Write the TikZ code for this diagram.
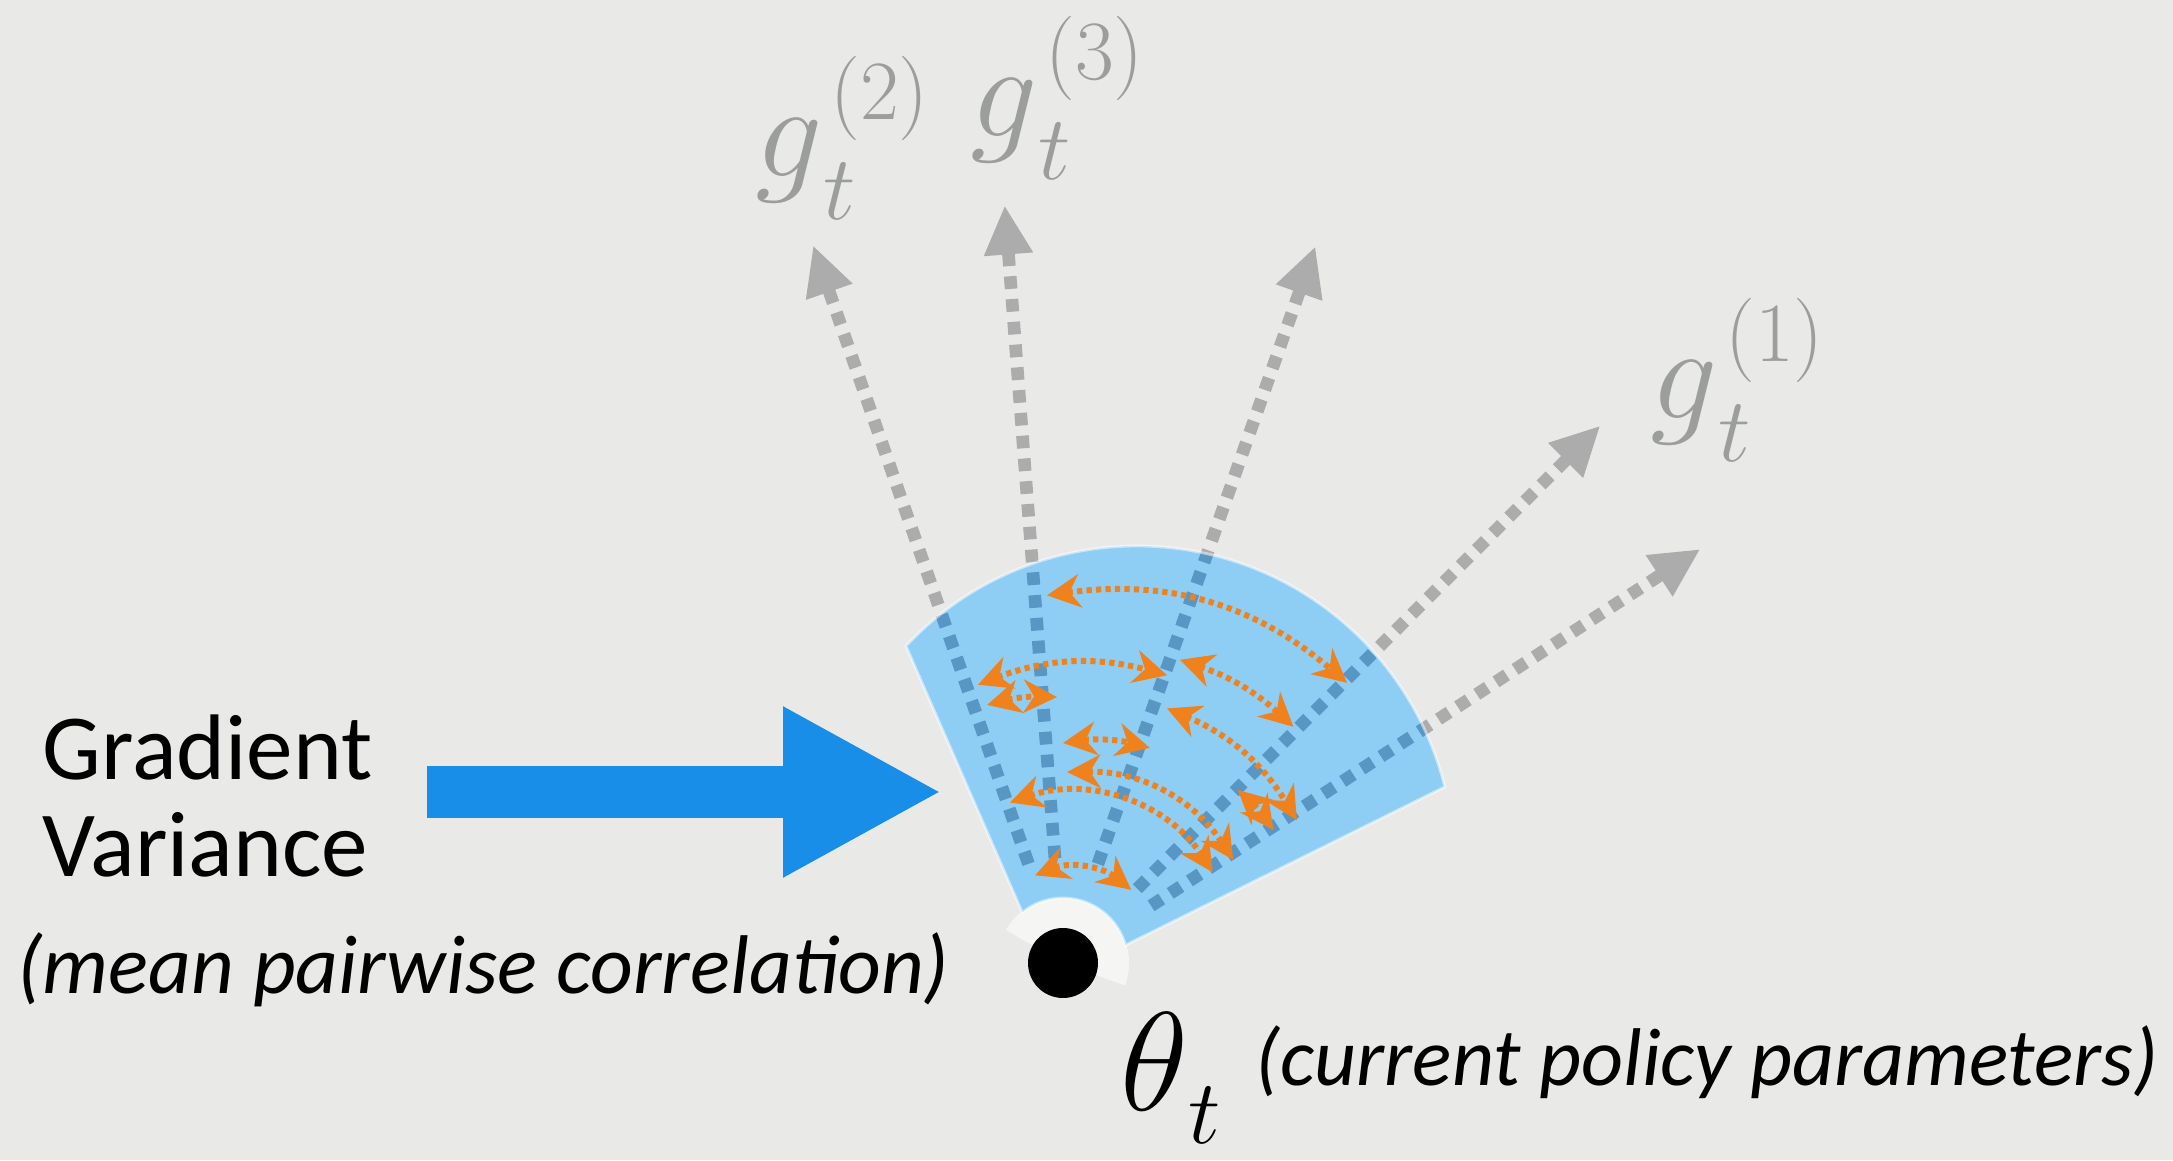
\RequirePackage{fix-cm}
\documentclass[tikz,border=0pt]{standalone}
\usepackage[no-math]{fontspec}
\setmainfont{Carlito}
\usetikzlibrary{arrows.meta,calc}
\definecolor{paper}     {RGB}{233,234,232}
\definecolor{fanblue}   {RGB}{142,206,245}
\definecolor{pushblue}  {RGB}{24,142,232}
\definecolor{gradgray}  {RGB}{172,172,172}
\definecolor{gradinner} {RGB}{88,150,196}
\definecolor{corrorange}{RGB}{240,130,30}
\definecolor{labelgray} {RGB}{156,158,156}
\def\fanpath{(9.06,5.14) arc[start angle=136.8,end angle=13.9,radius=3.17]
  -- (11.255,2.149) arc[start angle=16,end angle=128.8,radius=0.65] -- cycle}
\newcommand{\gk}[1]{$g$\rlap{\raisebox{-12pt}{\fontsize{26}{26}\selectfont$t$}}%
  \kern2pt\raisebox{16.5pt}{\fontsize{24}{24}\selectfont$(#1)$}}

\begin{document}
\begin{tikzpicture}[
  >=Stealth,
  gline/.style ={line width=3.6pt,dash pattern=on 3.6pt off 2.9pt,
                 -{Triangle[length=14pt,width=13pt]}},
  corr/.style  ={corrorange,line width=1.7pt,dash pattern=on 1.5pt off 1.2pt,
                 <->,>={Stealth[length=9.5pt,width=9.5pt,inset=3pt]}},
  bigarr/.style={pushblue,line width=0.52cm,
                 -{Triangle[length=1.59cm,width=1.59cm]}},
  glabel/.style={labelgray,font=\fontsize{38}{40}\selectfont,
                 inner sep=0pt,anchor=base west},
  txt/.style   ={font=\fontsize{26.5}{27.6}\selectfont,inner sep=0pt,align=left},
  note/.style  ={font=\fontsize{23.3}{27}\selectfont\itshape,inner sep=0pt,
                 anchor=base west},
]
\useasboundingbox (0,0) rectangle (21.73,11.60);

%% ── Background ───────────────────────────────────────────────────────────────
\fill[paper] (0,0) rectangle (21.73,11.60);
\fill[white,opacity=0.55] (10.63,1.97) -- ++(-20:0.66)
  arc[start angle=-20,end angle=150,radius=0.66] -- cycle;

%% ── Current parameters ───────────────────────────────────────────────────────
\node[circle,fill=black,minimum size=0.70cm,inner sep=0pt] (theta) at (10.63,1.97) {};

%% ── Sampled gradients (dotted rays) ──────────────────────────────────────────
\foreach \a [count=\i] in {109.2,94.4,70.6,45,33}{
  \coordinate (gb\i) at ($(theta)+(\a:1.05)$);
  \coordinate (gt\i) at ($(theta)+(\a:7.6)$);
  \draw[gline,gradgray] (gb\i) -- (gt\i);
}

%% ── Spread of the gradients ──────────────────────────────────────────────────
\fill[fanblue] \fanpath;
\begin{scope}
  \clip \fanpath;
  \foreach \i in {1,...,5} \draw[gline,gradinner] (gb\i) -- (gt\i);
\end{scope}
\draw[white,opacity=0.5,line width=0.8pt] \fanpath;

%% ── Pairwise correlations ────────────────────────────────────────────────────
\foreach \ta/\ra/\tb/\rb/\bend [count=\k] in {
    92.5/3.68/44.6/3.99/24, 107/2.91/70.1/3.06/18, 106.4/2.69/91.3/2.66/8,
    68.9/3.25/45.7/3.30/12, 67.8/2.75/31.4/2.74/18, 90/2.20/68/2.32/11,
    88.8/1.91/31.2/1.99/29, 108.3/1.69/31.2/1.75/38, 44.7/2.46/32.3/2.49/6,
    107.7/0.92/47/1.0/30}{
  \coordinate (ca\k) at ($(theta)+(\ta:\ra)$);
  \coordinate (cb\k) at ($(theta)+(\tb:\rb)$);
  \draw[corr] (ca\k) to[bend left=\bend] (cb\k);
}

%% ── Gradient labels ──────────────────────────────────────────────────────────
\node[glabel] (g2) at (7.55,9.83)  {\gk{2}};
\node[glabel] (g3) at (9.70,10.23) {\gk{3}};
\node[glabel] (g1) at (16.50,7.41) {\gk{1}};

%% ── Gradient variance arrow ──────────────────────────────────────────────────
\node[txt,anchor=west] (gvar) at (0.42,3.64) {Gradient\\Variance};
\node[note,font=\fontsize{23.7}{27}\selectfont\itshape] (mpc) at (0.17,1.67)
  {(mean pairwise correlation)};
\coordinate (gvtail) at (4.27,3.68);
\coordinate (gvtip)  at (9.42,3.68);
\draw[bigarr] (gvtail) -- (gvtip);

%% ── Parameter label ──────────────────────────────────────────────────────────
\node[font=\fontsize{40}{42}\selectfont,inner sep=0pt,anchor=base west]
  (thlbl) at (11.20,0.50)
  {$\theta$\raisebox{-9.5pt}{\fontsize{26}{26}\selectfont$t$}};
\node[note] (cpp) at (12.55,0.74) {(current policy parameters)};

\end{tikzpicture}
\end{document}
